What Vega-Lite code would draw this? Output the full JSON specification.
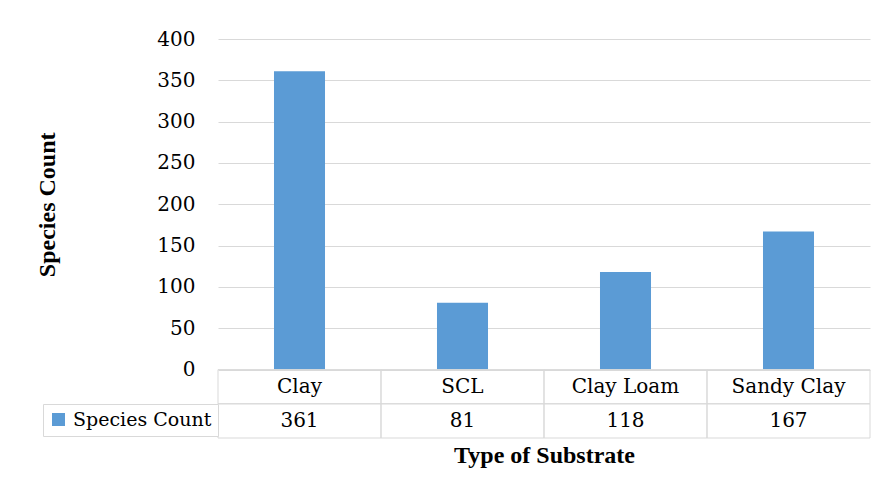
{
  "$schema": "https://vega.github.io/schema/vega-lite/v6.json",
  "width": 652,
  "height": 399,
  "autosize": {"type": "none"},
  "padding": {"left": 218, "top": 39, "right": 10, "bottom": 51},
  "background": "white",
  "config": {"view": {"stroke": null}, "font": "DejaVu Serif"},
  "data": {
    "values": [
      {"Substrate": "Clay", "Count": 361},
      {"Substrate": "SCL", "Count": 81},
      {"Substrate": "Clay Loam", "Count": 118},
      {"Substrate": "Sandy Clay", "Count": 167}
    ]
  },
  "layer": [
    {
      "mark": {"type": "bar", "width": {"band": 0.313}},
      "encoding": {
        "x": {
          "field": "Substrate",
          "type": "nominal",
          "scale": {"domain": ["Clay", "SCL", "Clay Loam", "Sandy Clay"], "paddingInner": 0, "paddingOuter": 0},
          "axis": {
            "title": "Type of Substrate",
            "labels": false,
            "ticks": false,
            "domain": false,
            "titleFont": "Liberation Serif",
            "titleFontSize": 24,
            "titleFontWeight": "bold",
            "titleColor": "black",
            "titlePadding": 5
          }
        },
        "y": {
          "field": "Count",
          "type": "quantitative",
          "scale": {"domain": [0, 400], "range": [330.6, 0], "nice": false, "zero": true},
          "axis": {
            "values": [0, 50, 100, 150, 200, 250, 300, 350, 400],
            "title": "Species Count",
            "grid": true,
            "gridColor": "#d9d9d9",
            "gridWidth": 1,
            "domain": false,
            "ticks": false,
            "tickSize": 0,
            "labelPadding": 23,
            "labelFont": "DejaVu Serif",
            "labelFontSize": 20,
            "labelColor": "black",
            "titleFont": "Liberation Serif",
            "titleFontSize": 24,
            "titleFontWeight": "bold",
            "titleColor": "black",
            "titlePadding": 97
          }
        },
        "color": {
          "datum": "Species Count",
          "type": "nominal",
          "scale": {"range": ["#5B9BD5"]},
          "legend": {
            "orient": "none",
            "legendX": -175,
            "legendY": 365,
            "title": null,
            "symbolType": "square",
            "symbolSize": 169,
            "symbolStrokeWidth": 0,
            "symbolOffset": 0,
            "labelFont": "DejaVu Serif",
            "labelFontSize": 19,
            "labelColor": "black",
            "labelOffset": 5,
            "labelLimit": 300,
            "padding": 6,
            "strokeColor": "#d9d9d9",
            "fillColor": "white"
          }
        }
      }
    },
    {
      "layer": [
        {
          "mark": {"type": "rect", "fill": "white", "fillOpacity": 0, "stroke": "#d9d9d9", "strokeWidth": 1},
          "encoding": {
            "x": {"field": "Substrate", "type": "nominal", "scale": {"domain": ["Clay", "SCL", "Clay Loam", "Sandy Clay"]}, "title": "Type of Substrate"},
            "y": {"datum": "Type", "type": "nominal", "scale": {"domain": ["Type", "Species Count"], "range": [330.6, 399], "paddingInner": 0, "paddingOuter": 0}, "axis": null}
          }
        },
        {
          "mark": {"type": "rect", "fill": "white", "fillOpacity": 0, "stroke": "#d9d9d9", "strokeWidth": 1},
          "encoding": {
            "x": {"field": "Substrate", "type": "nominal", "scale": {"domain": ["Clay", "SCL", "Clay Loam", "Sandy Clay"]}, "title": "Type of Substrate"},
            "y": {"datum": "Species Count", "type": "nominal", "scale": {"domain": ["Type", "Species Count"], "range": [330.6, 399], "paddingInner": 0, "paddingOuter": 0}, "axis": null}
          }
        },
        {
          "mark": {"type": "text", "font": "DejaVu Serif", "fontSize": 20, "color": "black", "baseline": "middle"},
          "encoding": {
            "x": {"field": "Substrate", "type": "nominal", "scale": {"domain": ["Clay", "SCL", "Clay Loam", "Sandy Clay"]}, "title": "Type of Substrate"},
            "y": {"datum": "Type", "type": "nominal", "scale": {"domain": ["Type", "Species Count"], "range": [330.6, 399], "paddingInner": 0, "paddingOuter": 0}, "axis": null},
            "text": {"field": "Substrate", "type": "nominal"}
          }
        },
        {
          "mark": {"type": "text", "font": "DejaVu Serif", "fontSize": 20, "color": "black", "baseline": "middle"},
          "encoding": {
            "x": {"field": "Substrate", "type": "nominal", "scale": {"domain": ["Clay", "SCL", "Clay Loam", "Sandy Clay"]}, "title": "Type of Substrate"},
            "y": {"datum": "Species Count", "type": "nominal", "scale": {"domain": ["Type", "Species Count"], "range": [330.6, 399], "paddingInner": 0, "paddingOuter": 0}, "axis": null},
            "text": {"field": "Count", "type": "quantitative"}
          }
        }
      ]
    }
  ],
  "resolve": {"scale": {"y": "independent"}}
}
